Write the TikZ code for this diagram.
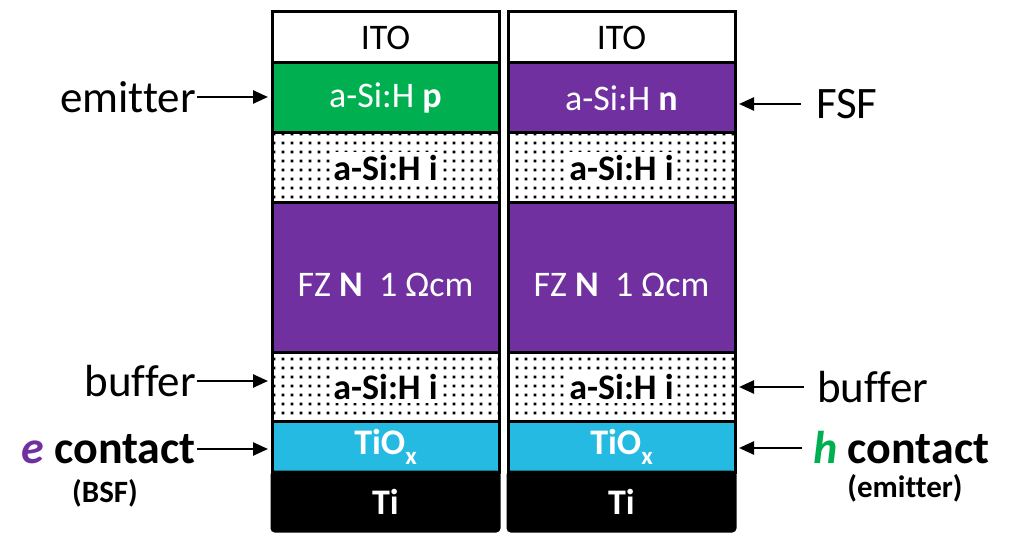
\documentclass[tikz,border=0pt]{standalone}
\usepackage{fontspec}
\setmainfont[Ligatures=NoCommon]{Carlito}
\usetikzlibrary{arrows.meta,patterns.meta}
\definecolor{cgreen}{HTML}{00B050}
\definecolor{cpurple}{HTML}{7030A0}
\definecolor{ccyan}{HTML}{25BAE2}
\tikzdeclarepattern{name=cdots,type=uncolored,bounding box={(0pt,0pt) and (9pt,9pt)},tile size={(9pt,9pt)},code={\fill (3pt,3pt) rectangle (6pt,6pt);}}
\newcommand{\subx}{\raisebox{-0.28em}{\fontsize{25}{25}\selectfont x}}
\newcommand{\wbox}[1]{{\setlength{\fboxsep}{3pt}\colorbox{white}{#1}}}
\newcommand{\fztext}{\raisebox{-7pt}[\height][\depth]{FZ \textbf{N}\ \ 1 Ωcm}}
\begin{document}
\begin{tikzpicture}[x=1pt,y=-1pt,
  layer/.style={draw=black,line width=3pt,minimum width=227pt,inner sep=0pt,outer sep=0pt,anchor=north west,font=\fontsize{36}{40}\selectfont},
  dotlayer/.style={layer,pattern={cdots},pattern color=black,font=\fontsize{36}{40}\selectfont\bfseries},
  lbl/.style={inner sep=1pt,font=\fontsize{45}{50}\selectfont},
  blbl/.style={inner sep=1pt,font=\fontsize{46}{52}\selectfont\bfseries},
  sublbl/.style={inner sep=1pt,font=\fontsize{31}{34}\selectfont\bfseries},
  arr/.style={line width=2.5pt,-{Triangle[length=15pt,width=13pt]}}]
\useasboundingbox (0,0) rectangle (1009,534);
% left column
\node[layer,minimum height=51pt] (LITO) at (272,12) {ITO};
\node[layer,minimum height=70pt,fill=cgreen,text=white] (Lp) at (272,63) {a-Si:H \textbf{p}};
\node[dotlayer,minimum height=70pt] (Li1) at (272,133) {\wbox{a-Si:H i}};
\node[layer,minimum height=150pt,fill=cpurple,text=white] (LFZ) at (272,203) {\fztext};
\node[dotlayer,minimum height=68pt] (Li2) at (272,353) {\wbox{a-Si:H i}};
\node[layer,minimum height=51pt,fill=ccyan,text=white,font=\fontsize{36}{40}\selectfont\bfseries] (LTiOx) at (272,421) {TiO\subx};
\node[layer,minimum height=59pt,fill=black,text=white,rounded corners=3pt,font=\fontsize{36}{40}\selectfont\bfseries] (LTi) at (272,472) {Ti};
% right column
\node[layer,minimum height=51pt] (RITO) at (508,12) {ITO};
\node[layer,minimum height=70pt,fill=cpurple,text=white] (Rn) at (508,63) {a-Si:H \textbf{n}};
\node[dotlayer,minimum height=70pt] (Ri1) at (508,133) {\wbox{a-Si:H i}};
\node[layer,minimum height=150pt,fill=cpurple,text=white] (RFZ) at (508,203) {\fztext};
\node[dotlayer,minimum height=68pt] (Ri2) at (508,353) {\wbox{a-Si:H i}};
\node[layer,minimum height=51pt,fill=ccyan,text=white,font=\fontsize{36}{40}\selectfont\bfseries] (RTiOx) at (508,421) {TiO\subx};
\node[layer,minimum height=59pt,fill=black,text=white,rounded corners=3pt,font=\fontsize{36}{40}\selectfont\bfseries] (RTi) at (508,472) {Ti};
% left labels
\node[lbl,anchor=east] (lemit) at (197,97) {emitter};
\node[lbl,anchor=east] (lbuf) at (197,381) {buffer};
\node[blbl,anchor=east] (lcont) at (197,449) {\textcolor{cpurple}{\itshape e} contact};
\node[sublbl] (lbsf) at (105,493) {(BSF)};
\draw[arr,shorten >=4pt] (lemit.east) -- (lemit.east -| Lp.west);
\draw[arr,shorten >=4pt] (lbuf.east) -- (lbuf.east -| Li2.west);
\draw[arr,shorten >=4pt] (lcont.east) -- (lcont.east -| LTiOx.west);
% right labels
\node[lbl,anchor=west] (rfsf) at (815,104) {FSF};
\node[lbl,anchor=west] (rbuf) at (816,387) {buffer};
\node[blbl,anchor=west] (rcont) at (812,448) {\textcolor{cgreen}{\itshape h} contact};
\node[sublbl] (remit) at (905,488) {(emitter)};
\draw[arr,shorten >=4pt,shorten <=14pt] (rfsf.west) -- (rfsf.west -| Rn.east);
\draw[arr,shorten >=4pt,shorten <=12pt] (rbuf.west) -- (rbuf.west -| Ri2.east);
\draw[arr,shorten >=4pt,shorten <=10pt] (rcont.west) -- (rcont.west -| RTiOx.east);
\end{tikzpicture}
\end{document}
